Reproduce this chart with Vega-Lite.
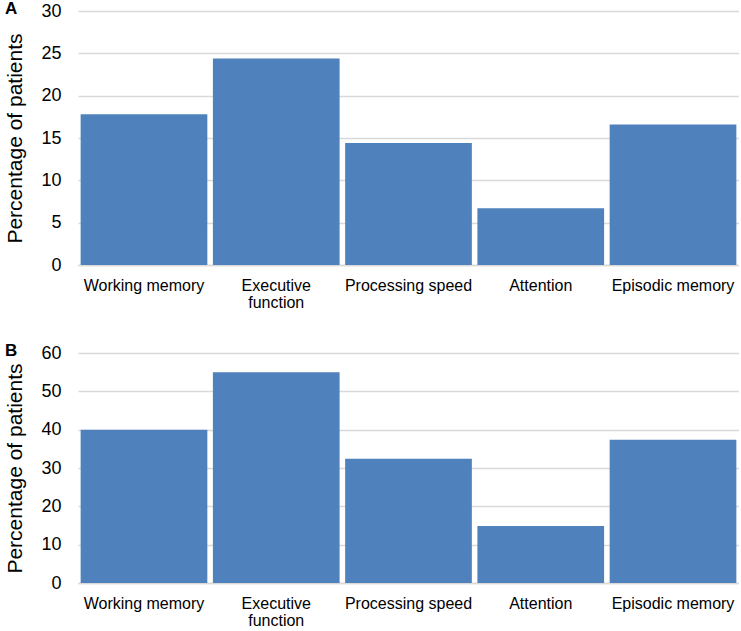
{
  "$schema": "https://vega.github.io/schema/vega-lite/v6.json",
  "background": "white",
  "padding": {"left": 4, "top": 0, "right": 0, "bottom": 0},
  "spacing": 32,
  "datasets": {
    "a": [
      {"domain": "Working memory", "pct": 17.8},
      {"domain": "Executive function", "pct": 24.4},
      {"domain": "Processing speed", "pct": 14.4},
      {"domain": "Attention", "pct": 6.7},
      {"domain": "Episodic memory", "pct": 16.6}
    ],
    "b": [
      {"domain": "Working memory", "pct": 40.0},
      {"domain": "Executive function", "pct": 55.0},
      {"domain": "Processing speed", "pct": 32.4},
      {"domain": "Attention", "pct": 14.9},
      {"domain": "Episodic memory", "pct": 37.4}
    ]
  },
  "vconcat": [
    {
      "title": {"text": "A", "anchor": "start", "frame": "bounds", "offset": -16, "dx": 0, "fontSize": 17, "fontWeight": "bold", "color": "black"},
      "width": 661,
      "height": 254,
      "data": {"name": "a"},
      "mark": {"type": "bar", "color": "#4F81BD"},
      "encoding": {
        "x": {
          "field": "domain", "type": "nominal", "sort": null, "title": null,
          "scale": {"paddingInner": 0.042, "paddingOuter": 0.02}
        },
        "y": {
          "field": "pct", "type": "quantitative", "title": "Percentage of patients",
          "scale": {"domain": [0, 30], "nice": false},
          "axis": {"values": [0, 5, 10, 15, 20, 25, 30]}
        }
      }
    },
    {
      "title": {"text": "B", "anchor": "start", "frame": "bounds", "offset": -16, "dx": 0, "fontSize": 17, "fontWeight": "bold", "color": "black"},
      "width": 661,
      "height": 230,
      "data": {"name": "b"},
      "mark": {"type": "bar", "color": "#4F81BD"},
      "encoding": {
        "x": {
          "field": "domain", "type": "nominal", "sort": null, "title": null,
          "scale": {"paddingInner": 0.042, "paddingOuter": 0.02}
        },
        "y": {
          "field": "pct", "type": "quantitative", "title": "Percentage of patients",
          "scale": {"domain": [0, 60], "nice": false},
          "axis": {"values": [0, 10, 20, 30, 40, 50, 60]}
        }
      }
    }
  ],
  "config": {
    "font": "Liberation Sans",
    "view": {"stroke": null},
    "axisX": {
      "labelAngle": 0,
      "labelFontSize": 16,
      "labelColor": "black",
      "labelPadding": 12,
      "labelLineHeight": 17,
      "labelExpr": "datum.label == 'Executive function' ? ['Executive', 'function'] : datum.label",
      "ticks": false,
      "domainColor": "#d9d9d9",
      "domainWidth": 1.5
    },
    "axisY": {
      "labelFontSize": 18,
      "labelColor": "black",
      "labelPadding": 17,
      "ticks": false,
      "domain": false,
      "gridColor": "#d9d9d9",
      "gridWidth": 1.5,
      "titleFontSize": 21,
      "titleFontWeight": "normal",
      "titleColor": "black",
      "titlePadding": 15
    }
  }
}
